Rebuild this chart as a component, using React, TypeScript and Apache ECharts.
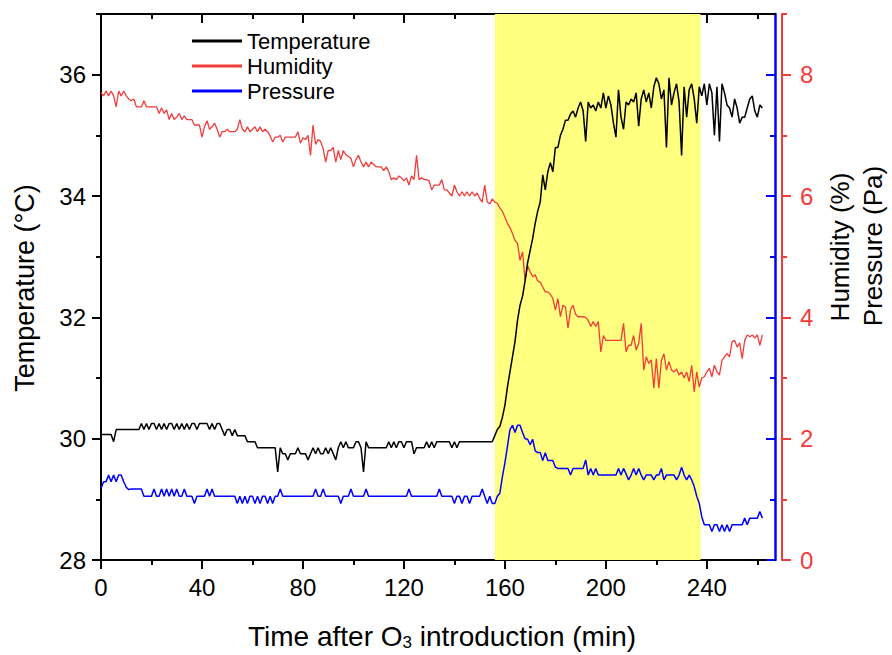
import React, { useEffect, useRef } from "react";
import * as echarts from "echarts";

// Temperature (°C), one reading per minute from t = 0 to 262 min
const temperature = [
  30.07, 30.07, 30.07, 30.07, 30.07, 29.95, 30.15, 30.15, 30.15, 30.15,
  30.15, 30.15, 30.15, 30.15, 30.15, 30.15, 30.25, 30.15, 30.25, 30.15,
  30.25, 30.25, 30.15, 30.25, 30.15, 30.25, 30.15, 30.25, 30.25, 30.15,
  30.25, 30.15, 30.25, 30.15, 30.25, 30.15, 30.25, 30.25, 30.15, 30.25,
  30.25, 30.25, 30.25, 30.15, 30.25, 30.15, 30.25, 30.25, 30.15, 30.05,
  30.15, 30.15, 30.05, 30.15, 30.05, 30.05, 30.05, 30.05, 29.95, 29.95,
  29.95, 29.95, 29.85, 29.85, 29.85, 29.85, 29.85, 29.85, 29.85, 29.85,
  29.45, 29.85, 29.75, 29.75, 29.65, 29.75, 29.75, 29.75, 29.85, 29.75,
  29.75, 29.75, 29.65, 29.75, 29.85, 29.75, 29.85, 29.75, 29.75, 29.85,
  29.75, 29.85, 29.75, 29.65, 29.85, 29.95, 29.85, 29.95, 29.85, 29.85,
  29.85, 29.95, 29.95, 29.85, 29.45, 29.95, 29.85, 29.85, 29.85, 29.85,
  29.85, 29.85, 29.85, 29.85, 29.95, 29.85, 29.95, 29.85, 29.95, 29.95,
  29.85, 29.95, 29.95, 29.95, 29.75, 29.85, 29.85, 29.85, 29.85, 29.95,
  29.85, 29.95, 29.85, 29.95, 29.95, 29.95, 29.95, 29.95, 29.95, 29.85,
  29.95, 29.85, 29.95, 29.95, 29.95, 29.95, 29.95, 29.95, 29.95, 29.95,
  29.95, 29.95, 29.95, 29.95, 29.95, 29.95, 30.05, 30.15, 30.2, 30.35,
  30.55, 30.85, 31.1, 31.35, 31.6, 31.95, 32.2, 32.35, 32.6, 32.9,
  33.1, 33.3, 33.55, 33.75, 33.9, 34.35, 34.1, 34.4, 34.55, 34.4,
  34.8, 34.8, 35.0, 35.1, 35.25, 35.25, 35.35, 35.4, 35.3, 35.45,
  35.55, 35.4, 34.9, 35.55, 35.45, 35.5, 35.4, 35.55, 35.45, 35.7,
  35.45, 35.65, 35.5, 35.2, 34.97, 35.75, 35.3, 35.1, 35.55, 35.5,
  35.6, 35.55, 35.7, 35.15, 35.6, 35.75, 35.55, 35.7, 35.45, 35.8,
  35.95, 35.85, 35.6, 35.75, 34.8, 35.95, 35.5, 35.7, 35.85, 35.55,
  34.67, 35.8, 35.3, 35.75, 35.85, 35.6, 35.2, 35.8, 35.65, 35.85,
  35.5, 35.85, 35.7, 35.0, 35.8, 34.9, 35.85, 35.7, 35.5, 35.45,
  35.3, 35.6, 35.45, 35.2, 35.3, 35.3, 35.45, 35.6, 35.65, 35.4,
  35.3, 35.5, 35.45,
];

// Humidity (%), one reading per minute from t = 0 to 262 min
const humidity = [
  7.7, 7.65, 7.73, 7.65, 7.73, 7.65, 7.47, 7.73, 7.65, 7.73,
  7.65, 7.6, 7.57, 7.6, 7.47, 7.47, 7.47, 7.57, 7.47, 7.47,
  7.47, 7.47, 7.47, 7.36, 7.45, 7.36, 7.42, 7.26, 7.36, 7.26,
  7.3, 7.36, 7.26, 7.32, 7.26, 7.26, 7.26, 7.17, 7.17, 7.17,
  6.97, 7.14, 7.24, 7.1, 7.14, 7.2, 7.1, 6.97, 7.06, 7.06,
  7.1, 7.06, 7.06, 7.06, 7.1, 7.26, 7.1, 7.06, 7.14, 7.06,
  7.1, 7.14, 7.06, 7.14, 7.06, 7.1, 7.06, 6.99, 6.89, 6.97,
  6.97, 7.0, 6.89, 6.97, 6.97, 6.97, 6.97, 6.97, 7.06, 6.87,
  6.96, 6.93, 7.0, 6.67, 7.17, 6.85, 6.93, 6.9, 6.78, 6.56,
  6.75, 6.75, 6.8, 6.56, 6.75, 6.6, 6.75, 6.68, 6.65, 6.62,
  6.48, 6.6, 6.67, 6.56, 6.48, 6.56, 6.48, 6.56, 6.52, 6.48,
  6.48, 6.48, 6.42, 6.48, 6.4, 6.27, 6.3, 6.27, 6.33, 6.3,
  6.25, 6.3, 6.18, 6.33, 6.27, 6.67, 6.27, 6.3, 6.27, 6.27,
  6.25, 6.1, 6.18, 6.18, 6.18, 6.27, 6.1, 6.1, 6.05, 6.0,
  6.18, 6.07, 6.0, 6.07, 6.0, 6.07, 6.0, 6.07, 6.0, 6.05,
  5.96, 5.9, 6.18, 5.9, 5.87, 5.95, 5.9, 5.88, 5.8, 5.75,
  5.65, 5.55, 5.48, 5.38, 5.27, 5.22, 4.94, 5.08, 4.61, 4.85,
  4.75, 4.67, 4.7, 4.6, 4.58, 4.5, 4.42, 4.42, 4.38, 4.31,
  4.12, 4.31, 4.01, 4.2, 4.17, 3.82, 4.12, 4.2, 4.05, 4.01,
  4.01, 4.01, 4.0, 3.95, 3.85, 3.93, 3.85, 3.93, 3.43, 3.7,
  3.62, 3.62, 3.62, 3.62, 3.62, 3.62, 3.62, 3.9, 3.43, 3.54,
  3.54, 3.7, 3.46, 3.57, 3.9, 3.13, 3.35, 3.24, 3.3, 2.83,
  3.32, 2.83, 3.29, 3.4, 3.13, 3.27, 3.13, 3.1, 3.15, 3.05,
  3.1, 3.0, 3.1, 2.94, 3.21, 2.77, 3.1, 2.85, 3.0, 3.02,
  3.1, 3.16, 3.02, 3.21, 3.1, 3.05, 3.29, 3.35, 3.4, 3.35,
  3.6, 3.62, 3.51, 3.58, 3.32, 3.62, 3.71, 3.68, 3.71, 3.66,
  3.71, 3.54, 3.71,
];

// Pressure (Pa), one reading per minute from t = 0 to 262 min
const pressure = [
  1.18, 1.29, 1.29, 1.4, 1.29, 1.4, 1.29, 1.4, 1.4, 1.29,
  1.2, 1.16, 1.17, 1.17, 1.17, 1.17, 1.17, 1.05, 1.05, 1.05,
  1.05, 1.17, 1.05, 1.05, 1.17, 1.05, 1.17, 1.05, 1.17, 1.05,
  1.17, 1.05, 1.05, 1.17, 1.05, 1.05, 1.05, 0.93, 1.05, 1.05,
  1.05, 1.05, 1.17, 1.05, 1.17, 1.05, 1.05, 1.05, 1.05, 1.05,
  1.05, 1.05, 1.05, 1.05, 0.93, 1.05, 0.93, 1.05, 0.93, 1.05,
  1.05, 0.93, 1.05, 0.93, 1.05, 1.05, 0.93, 1.05, 0.93, 1.05,
  1.05, 1.17, 1.05, 1.05, 1.05, 1.05, 1.05, 1.05, 1.05, 1.05,
  1.05, 1.05, 1.05, 1.05, 1.05, 1.17, 1.05, 1.05, 1.17, 1.05,
  1.05, 1.05, 1.05, 1.05, 1.05, 0.93, 1.05, 1.05, 1.05, 1.17,
  1.05, 1.05, 1.05, 1.05, 1.05, 1.17, 1.05, 1.05, 1.05, 1.05,
  1.05, 1.05, 1.05, 1.05, 1.05, 1.05, 1.05, 1.05, 1.05, 1.05,
  1.05, 1.05, 1.17, 1.05, 1.05, 1.05, 1.05, 1.05, 1.05, 1.05,
  1.05, 1.05, 1.05, 1.05, 1.17, 1.05, 1.05, 1.05, 1.05, 1.05,
  0.93, 1.05, 1.05, 0.93, 1.05, 1.05, 0.93, 1.05, 1.05, 1.05,
  1.05, 1.17, 1.05, 0.93, 1.05, 0.93, 0.93, 1.05, 1.1, 1.37,
  1.6, 1.87, 2.15, 2.22, 2.1, 2.22, 2.22, 2.1, 2.0, 1.99,
  1.9, 1.99, 1.8, 1.77, 1.77, 1.64, 1.77, 1.64, 1.64, 1.64,
  1.53, 1.51, 1.51, 1.51, 1.51, 1.51, 1.4, 1.51, 1.51, 1.51,
  1.51, 1.51, 1.65, 1.4, 1.51, 1.4, 1.51, 1.4, 1.4, 1.4,
  1.4, 1.4, 1.4, 1.4, 1.4, 1.51, 1.4, 1.51, 1.42, 1.32,
  1.4, 1.51, 1.4, 1.51, 1.4, 1.32, 1.4, 1.4, 1.4, 1.32,
  1.4, 1.4, 1.51, 1.32, 1.4, 1.4, 1.4, 1.4, 1.32, 1.4,
  1.53, 1.4, 1.32, 1.4, 1.32, 1.21, 1.05, 0.93, 0.71, 0.58,
  0.58, 0.58, 0.47, 0.58, 0.58, 0.47, 0.58, 0.47, 0.58, 0.47,
  0.58, 0.58, 0.58, 0.58, 0.58, 0.69, 0.58, 0.69, 0.69, 0.69,
  0.69, 0.8, 0.69,
];

const seriesNames = ["Temperature", "Humidity", "Pressure"];
const xMajorTicks = [0, 40, 80, 120, 160, 200, 240];
const xMinorTicks = [20, 60, 100, 140, 180, 220, 260];
const tempMajorTicks = [28, 30, 32, 34, 36];
const tempMinorTicks = [29, 31, 33, 35, 37];
const rightMajorTicks = [0, 2, 4, 6, 8];
const pressureMinorTicks = [1, 3, 5, 7];
const humidityMinorTicks = [1, 3, 5, 7, 9];
const ozoneWindow = [156, 237.5]; // shaded interval (min)

const FONT = "'Liberation Sans', Arial, Helvetica, sans-serif";
const RED = "#F23C3C";
const BLUE = "#0000FF";

const toPairs = (arr: number[]) => arr.map((v, i) => [i, v]);

export default function App() {
  const ref = useRef<HTMLDivElement>(null);

  useEffect(() => {
    if (!ref.current) return;
    const chart = echarts.init(ref.current, null, { renderer: "svg" });

    const xRange = { min: 0, max: 267 };
    const noSplit = { show: false };

    const option: any = {
      animation: false,
      backgroundColor: "#ffffff",
      grid: { left: 101, right: 117, top: 14, bottom: 95 },
      legend: {
        data: seriesNames,
        orient: "vertical",
        left: 187,
        top: 25,
        icon: "rect",
        itemWidth: 50,
        itemHeight: 3,
        itemGap: 3,
        textStyle: { fontSize: 22, fontFamily: FONT, color: "#000" },
      },
      xAxis: [
        {
          type: "value", position: "bottom", ...xRange,
          axisLine: { show: true, onZero: false, lineStyle: { color: "#000", width: 2 } },
          axisTick: { show: true, customValues: xMajorTicks, length: 9, lineStyle: { color: "#000", width: 2 } },
          axisLabel: { customValues: xMajorTicks, fontSize: 24, color: "#000", fontFamily: FONT, margin: 15 },
          splitLine: noSplit,
        },
        {
          type: "value", position: "bottom", ...xRange,
          axisLine: { show: false, onZero: false },
          axisTick: { show: true, customValues: xMinorTicks, length: 5, lineStyle: { color: "#000", width: 2 } },
          axisLabel: { show: false },
          splitLine: noSplit,
        },
        {
          type: "value", position: "top", ...xRange,
          axisLine: { show: true, onZero: false, lineStyle: { color: "#000", width: 2 } },
          axisTick: { show: true, inside: true, customValues: xMajorTicks, length: 9, lineStyle: { color: "#000", width: 2 } },
          axisLabel: { show: false },
          splitLine: noSplit,
        },
        {
          type: "value", position: "top", ...xRange,
          axisLine: { show: false, onZero: false },
          axisTick: { show: true, inside: true, customValues: xMinorTicks, length: 5, lineStyle: { color: "#000", width: 2 } },
          axisLabel: { show: false },
          splitLine: noSplit,
        },
      ],
      yAxis: [
        {
          type: "value", position: "left", min: 28, max: 37,
          axisLine: { show: true, onZero: false, lineStyle: { color: "#000", width: 2 } },
          axisTick: { show: true, customValues: tempMajorTicks, length: 9, lineStyle: { color: "#000", width: 2 } },
          axisLabel: { customValues: tempMajorTicks, fontSize: 24, color: "#000", fontFamily: FONT, margin: 15 },
          splitLine: noSplit,
        },
        {
          type: "value", position: "left", min: 28, max: 37,
          axisLine: { show: false, onZero: false },
          axisTick: { show: true, customValues: tempMinorTicks, length: 5, lineStyle: { color: "#000", width: 2 } },
          axisLabel: { show: false },
          splitLine: noSplit,
        },
        {
          type: "value", position: "right", offset: 0, min: 0, max: 9,
          axisLine: { show: true, onZero: false, lineStyle: { color: BLUE, width: 2.5 } },
          axisTick: { show: true, inside: true, customValues: rightMajorTicks, length: 9, lineStyle: { color: BLUE, width: 2 } },
          axisLabel: { show: false },
          splitLine: noSplit,
        },
        {
          type: "value", position: "right", offset: 0, min: 0, max: 9,
          axisLine: { show: false, onZero: false },
          axisTick: { show: true, inside: true, customValues: pressureMinorTicks, length: 5, lineStyle: { color: BLUE, width: 2 } },
          axisLabel: { show: false },
          splitLine: noSplit,
        },
        {
          type: "value", position: "right", offset: 7, min: 0, max: 9,
          axisLine: { show: true, onZero: false, lineStyle: { color: RED, width: 2 } },
          axisTick: { show: true, customValues: rightMajorTicks, length: 9, lineStyle: { color: RED, width: 2 } },
          axisLabel: { customValues: rightMajorTicks, fontSize: 24, color: RED, fontFamily: FONT, margin: 18 },
          splitLine: noSplit,
        },
        {
          type: "value", position: "right", offset: 7, min: 0, max: 9,
          axisLine: { show: false, onZero: false },
          axisTick: { show: true, customValues: humidityMinorTicks, length: 5, lineStyle: { color: RED, width: 2 } },
          axisLabel: { show: false },
          splitLine: noSplit,
        },
      ],
      series: [
        {
          name: seriesNames[0],
          type: "line",
          xAxisIndex: 0,
          yAxisIndex: 0,
          data: toPairs(temperature),
          symbol: "none",
          color: "#000",
          lineStyle: { color: "#000", width: 1.5 },
          z: 4,
          markArea: {
            silent: true,
            itemStyle: { color: "#FFFF80" },
            data: [[{ xAxis: ozoneWindow[0] }, { xAxis: ozoneWindow[1] }]],
          },
        },
        {
          name: seriesNames[1],
          type: "line",
          xAxisIndex: 0,
          yAxisIndex: 4,
          data: toPairs(humidity),
          symbol: "none",
          color: RED,
          lineStyle: { color: RED, width: 1.3 },
          z: 3,
        },
        {
          name: seriesNames[2],
          type: "line",
          xAxisIndex: 0,
          yAxisIndex: 2,
          data: toPairs(pressure),
          symbol: "none",
          color: BLUE,
          lineStyle: { color: BLUE, width: 1.5 },
          z: 3,
        },
      ],
      graphic: [
        {
          type: "text", x: 25, y: 288, rotation: Math.PI / 2,
          style: { text: "Temperature (°C)", fontSize: 27, fontFamily: FONT, fill: "#000", align: "center", verticalAlign: "middle" },
        },
        {
          type: "text", x: 840, y: 247, rotation: Math.PI / 2,
          style: { text: "Humidity (%)", fontSize: 26, fontFamily: FONT, fill: "#000", align: "center", verticalAlign: "middle" },
        },
        {
          type: "text", x: 873, y: 246, rotation: Math.PI / 2,
          style: { text: "Pressure (Pa)", fontSize: 26, fontFamily: FONT, fill: "#000", align: "center", verticalAlign: "middle" },
        },
        {
          type: "text", x: 442, y: 636,
          style: {
            text: "Time after O{sub|3} introduction (min)",
            fontSize: 28, fontFamily: FONT, fill: "#000", align: "center", verticalAlign: "middle",
            rich: { sub: { fontSize: 17, fontFamily: FONT, fill: "#000", padding: [12, 0, 0, 0] } },
          },
        },
      ],
    };

    chart.setOption(option);
    return () => chart.dispose();
  }, []);

  return (
    <div
      ref={ref}
      style={{ position: "absolute", left: 0, top: 0, width: 892, height: 655 }}
    />
  );
}
